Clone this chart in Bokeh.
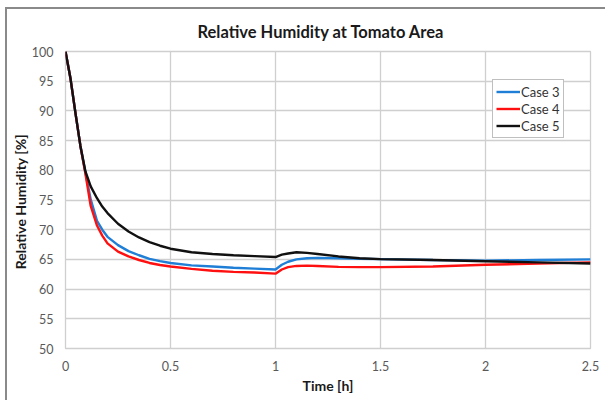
from bokeh.plotting import figure
from bokeh.models import Range1d, FixedTicker, Legend, LegendItem, InlineStyleSheet
from bokeh.embed import file_html
from bokeh.resources import INLINE

# ---- data ----
time_h = [0.0, 0.024, 0.048, 0.071, 0.095, 0.12, 0.15, 0.175, 0.2, 0.25, 0.3, 0.35, 0.4,
          0.45, 0.5, 0.6, 0.7, 0.8, 0.9, 1.0, 1.03, 1.06, 1.1, 1.15, 1.2, 1.3, 1.4, 1.5,
          1.75, 2.0, 2.25, 2.5]
case3 = [100.0, 95.4, 89.5, 84.1, 79.6, 75.1, 71.5, 70.0, 68.8, 67.4, 66.4, 65.7, 65.1,
         64.7, 64.4, 64.0, 63.8, 63.6, 63.45, 63.3, 64.1, 64.6, 65.0, 65.2, 65.25, 65.2, 65.1,
         65.05, 64.9, 64.8, 64.9, 65.0]
case4 = [100.0, 95.4, 89.5, 84.1, 79.4, 74.0, 70.7, 69.0, 67.7, 66.3, 65.5, 64.9, 64.4,
         64.05, 63.8, 63.4, 63.1, 62.9, 62.8, 62.6, 63.3, 63.7, 63.9, 63.95, 63.9, 63.75, 63.7,
         63.7, 63.8, 64.1, 64.3, 64.5]
case5 = [100.0, 95.4, 89.5, 84.1, 79.8, 77.3, 75.3, 73.9, 72.8, 71.0, 69.7, 68.7, 67.9,
         67.3, 66.8, 66.2, 65.9, 65.7, 65.55, 65.4, 65.8, 66.0, 66.2, 66.1, 65.9, 65.5, 65.2,
         65.05, 64.9, 64.7, 64.5, 64.3]

x_ticks = [0, 0.5, 1, 1.5, 2, 2.5]
y_ticks = [50, 55, 60, 65, 70, 75, 80, 85, 90, 95, 100]
x_tick_labels = {0: "0", 0.5: "0.5", 1: "1", 1.5: "1.5", 2: "2", 2.5: "2.5"}

FONT = "Lato"

p = figure(width=605, height=400, output_backend="svg", toolbar_location=None,
           x_range=Range1d(0, 2.5), y_range=Range1d(50, 100),
           min_border_left=65, min_border_right=15, min_border_top=51, min_border_bottom=52,
           background_fill_color="white", border_fill_color="white")

p.title.text = "Relative Humidity at Tomato Area"
p.title.align = "left"
p.title.offset = 132
p.title.text_font = FONT
p.title.text_font_size = "16.5px"
p.title.text_font_style = "bold"
p.title.text_color = "#1a1a1a"
p.title.standoff = 19

p.outline_line_color = "#cfcfcf"
p.outline_line_width = 1.3

for ax in (p.xaxis[0], p.yaxis[0]):
    ax.axis_line_color = None
    ax.major_tick_line_color = None
    ax.minor_tick_line_color = None
    ax.major_label_text_font = FONT
    ax.major_label_text_font_size = "12.5px"
    ax.major_label_text_color = "#595959"
    ax.axis_label_text_font = FONT
    ax.axis_label_text_font_size = "14px"
    ax.axis_label_text_font_style = "bold"
    ax.axis_label_text_color = "#1a1a1a"

p.xaxis.ticker = FixedTicker(ticks=x_ticks)
p.xaxis.major_label_overrides = x_tick_labels
p.yaxis.ticker = FixedTicker(ticks=y_ticks)
p.xaxis.axis_label = "Time [h]"
p.yaxis.axis_label = "Relative Humidity  [%]"
p.xaxis.major_label_standoff = 6
p.xaxis.axis_label_standoff = 3
p.yaxis.major_label_standoff = 6
p.yaxis.axis_label_standoff = 0

p.xgrid.ticker = FixedTicker(ticks=x_ticks)
p.ygrid.ticker = FixedTicker(ticks=y_ticks)
for g in (p.xgrid[0], p.ygrid[0]):
    g.grid_line_color = "#cfcfcf"
    g.grid_line_width = 1.3

r3 = p.line(time_h, case3, line_color="#1f7ed6", line_width=2.4)
r4 = p.line(time_h, case4, line_color="#ff1010", line_width=2.4)
r5 = p.line(time_h, case5, line_color="#111111", line_width=2.4)

legend = Legend(items=[LegendItem(label="Case 3", renderers=[r3]),
                       LegendItem(label="Case 4", renderers=[r4]),
                       LegendItem(label="Case 5", renderers=[r5])],
                location=(427, 210))
legend.label_text_font = FONT
legend.label_text_font_size = "13px"
legend.label_text_color = "#333333"
legend.border_line_color = "#808080"
legend.border_line_width = 1
legend.background_fill_color = "white"
legend.background_fill_alpha = 1
legend.padding = 3
legend.margin = 0
legend.spacing = 0
legend.glyph_width = 24
legend.glyph_height = 17
legend.label_height = 17
legend.label_standoff = 1
p.add_layout(legend)

p.stylesheets = [InlineStyleSheet(css="""
:host { position: relative; }
:host::after {
  content: ""; position: absolute; left: 5px; top: 7px;
  width: 600px; height: 393px; box-sizing: border-box;
  border-top: 2px solid #8a8a8a; border-left: 2px solid #8a8a8a;
  pointer-events: none;
}
""")]

open("out.html", "w").write(file_html(p, INLINE))
